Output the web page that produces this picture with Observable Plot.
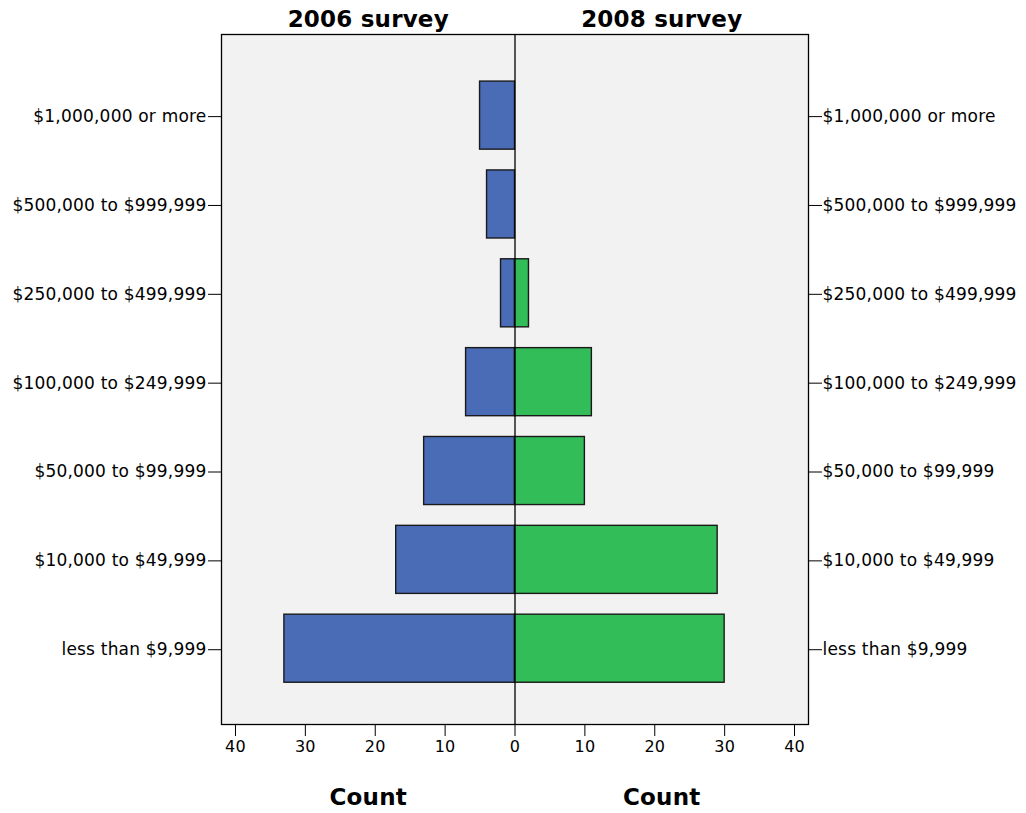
<!DOCTYPE html>
<html>
<head>
<meta charset="utf-8">
<script src="https://cdn.jsdelivr.net/npm/d3@7"></script>
<script src="https://cdn.jsdelivr.net/npm/@observablehq/plot@0.6"></script>
<style>
  html, body { margin: 0; padding: 0; background: #fff; }
</style>
</head>
<body>
<div id="chart"></div>
<script>
const categories = [
  "$1,000,000 or more",
  "$500,000 to $999,999",
  "$250,000 to $499,999",
  "$100,000 to $249,999",
  "$50,000 to $99,999",
  "$10,000 to $49,999",
  "less than $9,999"
];
const survey2006 = [5, 4, 2, 7, 13, 17, 33];
const survey2008 = [0, 0, 2, 11, 10, 29, 30];
const panelTitles = ["2006 survey", "2008 survey"];
const xTicks = [-40, -30, -20, -10, 0, 10, 20, 30, 40];
const xDomain = [-42, 42];

const rows2006 = categories.map((c, i) => ({cat: c, v: survey2006[i]})).filter(d => d.v > 0);
const rows2008 = categories.map((c, i) => ({cat: c, v: survey2008[i]})).filter(d => d.v > 0);
const titleRows = [
  {x: xDomain[0] / 2, t: panelTitles[0]},
  {x: xDomain[1] / 2, t: panelTitles[1]}
];
const countRows = [
  {x: xDomain[0] / 2, t: "Count"},
  {x: xDomain[1] / 2, t: "Count"}
];

const chart = Plot.plot({
  width: 1026,
  height: 813,
  marginTop: 34,
  marginBottom: 89,
  marginLeft: 221,
  marginRight: 218,
  style: {fontFamily: "DejaVu Sans", fontSize: "17px", color: "#000", background: "#fff", letterSpacing: "0.2px"},
  x: {domain: xDomain},
  y: {domain: categories, paddingInner: 0.234, paddingOuter: 0.5, align: 0.53, round: false},
  marks: [
    Plot.frame({fill: "#f2f2f2", stroke: null}),
    Plot.barX(rows2006, {y: "cat", x1: 0, x2: d => -d.v, fill: "#4a6cb7", stroke: "#1a1a1a", strokeWidth: 1.4}),
    Plot.barX(rows2008, {y: "cat", x1: 0, x2: d => d.v, fill: "#33bd59", stroke: "#1a1a1a", strokeWidth: 1.4}),
    Plot.ruleX([0], {stroke: "#000", strokeWidth: 1.3}),
    Plot.frame({stroke: "#000", strokeWidth: 1.3}),
    Plot.axisY({anchor: "left", tickSize: 13, tickPadding: 2, label: null, fontSize: 17, dy: 1}),
    Plot.axisY({anchor: "right", tickSize: 13, tickPadding: 1, label: null, fontSize: 17, dy: 1}),
    Plot.axisX({anchor: "bottom", ticks: xTicks, tickFormat: d => Math.abs(d), tickSize: 12, tickPadding: 4, label: null, fontSize: 16}),
    Plot.text(titleRows, {x: "x", text: "t", frameAnchor: "top", dy: -15, fontWeight: "bold", fontSize: 23, lineAnchor: "middle"}),
    Plot.text(countRows, {x: "x", text: "t", frameAnchor: "bottom", dy: 73, fontWeight: "bold", fontSize: 23, lineAnchor: "middle"})
  ]
});
document.getElementById("chart").appendChild(chart);
</script>
</body>
</html>
